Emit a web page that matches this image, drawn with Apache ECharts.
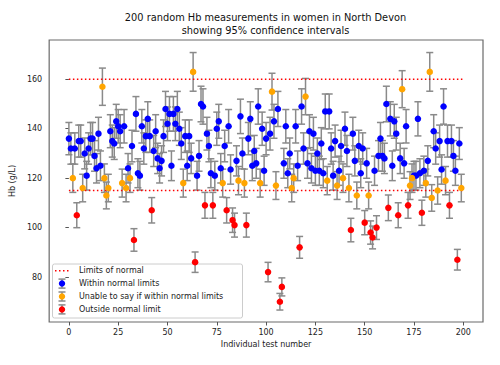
<!DOCTYPE html>
<html><head><meta charset="utf-8">
<script src="https://cdn.jsdelivr.net/npm/echarts@6/dist/echarts.min.js"></script>
<style>html,body{margin:0;padding:0;background:#fff}#c{width:500px;height:365px}</style>
</head><body><div id="c"></div>
<script>
const titleLines = ['200 random Hb measurements in women in North Devon', 'showing 95% confidence intervals'];
const xAxisName = 'Individual test number';
const yAxisName = 'Hb (g/L)';
const xTicks = [0, 25, 50, 75, 100, 125, 150, 175, 200];
const yTicks = [80, 100, 120, 140, 160];
const normalLimits = [115, 160];
const ciFraction = 0.048;
const legendLabels = ['Limits of normal', 'Within normal limits', 'Unable to say if within normal limits', 'Outside normal limit'];
const groupColors = ['#0000ff', '#ffa500', '#ff0000'];
// Hb value for test numbers 0..199
const hb = [
 136,132,120,132,105,135,135,116,130,121,
 132,136,136,129,124,138,125,157,120,113,
 116,139,135,134,143,141,139,118,141,116,
 124,120,133,95,146,122,121,141,132,137,
 144,137,107,131,139,128,124,127,137,148,
 142,146,125,146,142,148,140,134,118,137,
 125,137,128,163,86,121,129,150,149,109,
 138,133,122,109,121,140,143,124,118,133,
 107,141,123.5,103,101,127,119,145,130,118,
 101,136,144,125,131,126,149,118,140,123,
 136,82,138,155,143,117,148,70,76,126,
 141,122,130,116,120,141,125,92,149,132,
 153,126,139,124,138,123,130,123,134,122,
 147,119,147,132,121,135,117,123,133,120,
 140,131,116,99,138,127,113,133,122,132,
 102,126,113,98,96,123,100,129,136,129,
 128,150,108,144,125,143,138,105,128,156,
 126,141,109,117,120,121,121,144,122,106,
 123,118,127,163,112,139,132,115,135,123.5,
 149,119,135,109,135,129,123,87,134,116
];

function groupOf(v) {
  const lo = v * (1 - ciFraction), hi = v * (1 + ciFraction);
  if (lo >= normalLimits[0] && hi <= normalLimits[1]) return 0;
  if (hi < normalLimits[0] || lo > normalLimits[1]) return 2;
  return 1;
}
const groups = [[], [], []];
hb.forEach((v, i) => groups[groupOf(v)].push(i));

const FONT = 'DejaVu Sans';
const barColor = '#8a8a8a';

function errRender(params, api) {
  const x = api.value(0), lo = api.value(1), hi = api.value(2);
  const p1 = api.coord([x, lo]), p2 = api.coord([x, hi]);
  const cap = 3.5;
  const st = { stroke: barColor, lineWidth: 1.5 };
  return { type: 'group', children: [
    { type: 'line', shape: { x1: p1[0], y1: p1[1], x2: p2[0], y2: p2[1] }, style: st },
    { type: 'line', shape: { x1: p1[0] - cap, y1: p1[1], x2: p1[0] + cap, y2: p1[1] }, style: st },
    { type: 'line', shape: { x1: p2[0] - cap, y1: p2[1], x2: p2[0] + cap, y2: p2[1] }, style: st }
  ]};
}

const series = [];
normalLimits.forEach(lim => {
  series.push({ type: 'line', name: legendLabels[0], data: [[0, lim], [hb.length, lim]],
    symbol: 'none', silent: true, lineStyle: { color: '#ff0000', width: 1.5, type: [1.5, 2.5] }, z: 2 });
});
groups.forEach((idx, g) => {
  series.push({ type: 'custom', name: legendLabels[g + 1] + ' CI', renderItem: errRender, silent: true, z: 2,
    data: idx.map(i => [i, hb[i] * (1 - ciFraction), hb[i] * (1 + ciFraction)]) });
  series.push({ type: 'scatter', name: legendLabels[g + 1], symbolSize: 6.5, z: 2,
    itemStyle: { color: groupColors[g], opacity: 1 },
    data: idx.map(i => [i, hb[i]]) });
});

// legend drawn as graphic (matplotlib-like handles with error bars)
const lgX = 52.5, lgY = 264, rowY0 = 270.7, rowDy = 12.9, iconX = 62, textX = 79;
const legendChildren = [
  { type: 'rect', shape: { x: lgX, y: lgY, width: 190, height: 54, r: 2 },
    style: { fill: 'rgba(255,255,255,0.85)', stroke: '#cccccc', lineWidth: 1 } },
  { type: 'line', shape: { x1: 55, y1: rowY0, x2: 71, y2: rowY0 },
    style: { stroke: '#ff0000', lineWidth: 1.5, lineDash: [1.5, 2.5] } }
];
legendLabels.forEach((lab, k) => {
  const y = rowY0 + k * rowDy;
  if (k > 0) {
    const st = { stroke: barColor, lineWidth: 1.5 };
    legendChildren.push(
      { type: 'line', shape: { x1: iconX, y1: y - 4.5, x2: iconX, y2: y + 4.5 }, style: st },
      { type: 'line', shape: { x1: iconX - 3.5, y1: y - 4.5, x2: iconX + 3.5, y2: y - 4.5 }, style: st },
      { type: 'line', shape: { x1: iconX - 3.5, y1: y + 4.5, x2: iconX + 3.5, y2: y + 4.5 }, style: st },
      { type: 'circle', shape: { cx: iconX, cy: y, r: 3.2 }, style: { fill: groupColors[k - 1] } }
    );
  }
  legendChildren.push({ type: 'text', x: textX, y: y,
    style: { text: lab, fill: '#222', font: '8px "DejaVu Sans"', textVerticalAlign: 'middle', textAlign: 'left' } });
});

const chart = echarts.init(document.getElementById('c'), null, { renderer: 'svg' });
chart.setOption({
  animation: false,
  backgroundColor: '#ffffff',
  title: { text: titleLines.join('\n'), left: 265.5, top: 10.5, padding: 0, textAlign: 'center',
    textStyle: { fontFamily: FONT, fontSize: 9.8, fontWeight: 'normal', color: '#111', lineHeight: 13.4 } },
  grid: { left: 48, right: 17, top: 40, bottom: 43, show: true, borderColor: '#6a6a6a', borderWidth: 1.2 },
  xAxis: { type: 'value', min: -10, max: 210,
    axisLine: { show: false }, splitLine: { show: false },
    axisTick: { show: true, length: 3.5, customValues: xTicks, lineStyle: { color: '#555' } },
    axisLabel: { customValues: xTicks, fontFamily: FONT, fontSize: 8, color: '#222', margin: 6 },
    name: xAxisName, nameLocation: 'middle', nameGap: 18,
    nameTextStyle: { fontFamily: FONT, fontSize: 8, color: '#222' } },
  yAxis: { type: 'value', min: 61.8, max: 175.9,
    axisLine: { show: false }, splitLine: { show: false },
    axisTick: { show: true, length: 3.5, customValues: yTicks, lineStyle: { color: '#555' } },
    axisLabel: { customValues: yTicks, fontFamily: FONT, fontSize: 8, color: '#222', margin: 7 },
    name: yAxisName, nameLocation: 'middle', nameGap: 31, nameRotate: 90,
    nameTextStyle: { fontFamily: FONT, fontSize: 8, color: '#222' } },
  series: series,
  graphic: [{ type: 'group', z: 100, children: legendChildren }]
});
</script></body></html>
